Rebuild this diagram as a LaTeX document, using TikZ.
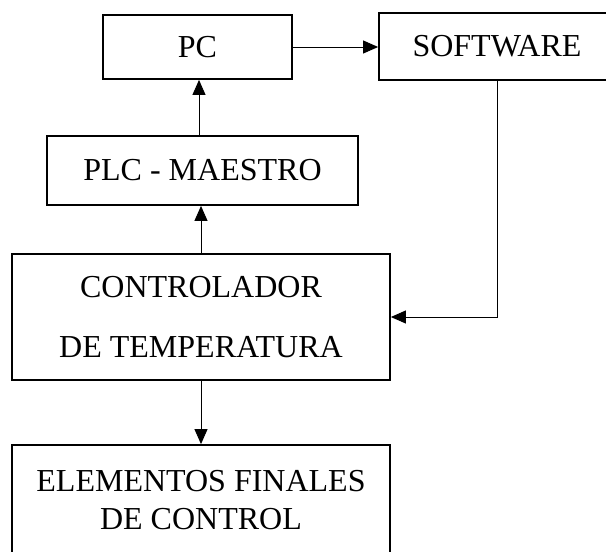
\documentclass[tikz,border=0pt]{standalone}
\usepackage{fontspec}
\setmainfont{Liberation Serif}
\usepackage{tikz}
\usetikzlibrary{arrows.meta}
\usetikzlibrary{calc}

\begin{document}
\begin{tikzpicture}[x=1pt, y=-1pt]
        % ================= estilos =================
        \tikzset{
            % bloques: rectangulo blanco con borde negro grueso
            bloque/.style={rectangle, draw=black, line width=1.8pt, fill=white, inner sep=0pt,
                           align=center, font=\fontsize{32}{38}\selectfont},
            % flechas: linea fina con punta triangular llena
            flecha/.style={line width=1pt, -{Triangle[length=15pt, width=13pt]}}
        }

        % marco fijo de la imagen (606 x 552)
        \useasboundingbox (0,0) rectangle (606,552);
        \clip (0,0) rectangle (606,552);

        % ================= bloques =================
        \node[bloque, minimum width=189, minimum height=64] (pc) at (197.5,47) {PC};
        \node[bloque, minimum width=236, minimum height=67] (sw) at (497,46.5) {SOFTWARE};
        \node[bloque, minimum width=311, minimum height=69] (plc) at (202.5,170.5) {PLC - MAESTRO};
        \node[bloque, minimum width=378, minimum height=126] (ctrl) at (201,317)
            {CONTROLADOR\\[22pt]DE TEMPERATURA};
        \node[bloque, minimum width=378, minimum height=110] (elem) at (201,500)
            {ELEMENTOS FINALES\\DE CONTROL};

        % ================= conexiones =================
        \draw[flecha] (pc.east) -- (sw.west |- pc.east);
        \draw[flecha] ($(plc.north -| pc.south)+(1.5,0)$) -- ($(pc.south)+(1.5,0)$);
        \draw[flecha] (ctrl.north) -- (plc.south -| ctrl.north);
        \draw[flecha] (ctrl.south) -- (elem.north);
        % lazo de SOFTWARE hacia el controlador
        \draw[flecha] (sw.south) |- (ctrl.east);

    \end{tikzpicture}
\end{document}
